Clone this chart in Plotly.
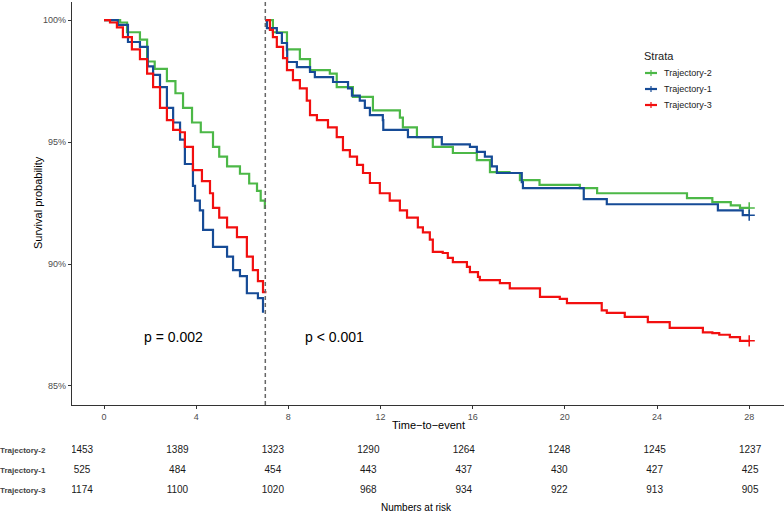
import plotly.graph_objects as go

# ---------------- data ----------------
groups = ["Trajectory-2", "Trajectory-1", "Trajectory-3"]
colors = ["#4CB847", "#164B96", "#F20F0F"]
landmark = 7

# segment 1 (0-7 days)
t1_traj2 = [0, 0.7, 1.0, 1.56, 1.87, 2.2, 2.73, 3.1, 3.43, 3.82, 4.2, 4.73, 5.0, 5.34, 5.9, 6.3, 6.64, 6.8, 6.98, 7.0]
s1_traj2 = [100, 99.9, 99.5, 99.2, 98.3, 98.0, 97.5, 97.0, 96.4, 95.8, 95.4, 94.8, 94.4, 94.0, 93.7, 93.3, 93.0, 92.6, 92.3, 92.3]
t1_traj1 = [0, 0.6, 1.04, 1.56, 1.9, 2.13, 2.43, 2.73, 3.0, 3.3, 3.51, 3.86, 3.95, 4.16, 4.3, 4.73, 5.34, 5.6, 5.9, 6.2, 6.68, 6.9]
s1_traj1 = [100, 99.8, 99.1, 98.9, 98.1, 97.75, 97.25, 96.4, 95.8, 95.1, 94.1, 93.2, 92.6, 92.2, 91.4, 90.7, 90.3, 89.75, 89.5, 88.8, 88.6, 88.0]
t1_traj3 = [0, 0.26, 0.56, 0.82, 1.21, 1.56, 1.87, 2.13, 2.43, 2.73, 3.0, 3.3, 3.51, 3.86, 4.25, 4.6, 4.73, 5.0, 5.34, 5.77, 6.2, 6.46, 6.68, 6.9, 7.0]
s1_traj3 = [100, 99.9, 99.7, 99.3, 98.8, 98.4, 97.8, 97.25, 96.4, 95.9, 95.5, 95.4, 94.8, 93.85, 93.4, 92.9, 92.3, 91.9, 91.5, 91.1, 90.3, 89.75, 89.3, 88.85, 88.8]

# segment 2 (7-28 days)
t2_traj2 = [7, 7.33, 7.94, 8.5, 8.94, 9.8, 10.1, 10.8, 11.67, 12.84, 12.97, 13.58, 14.27, 15.14, 16.18, 16.75, 17.6, 18.05, 18.9, 20.65, 21.4, 24.1, 25.3, 26.4, 27.2, 27.6, 28]
s2_traj2 = [100, 99.5, 98.8, 98.4, 97.95, 97.8, 97.25, 96.85, 96.3, 96.0, 95.6, 95.2, 94.8, 94.55, 94.26, 93.77, 93.73, 93.44, 93.24, 93.11, 92.9, 92.9, 92.7, 92.54, 92.4, 92.3, 92.3]
t2_traj1 = [7, 7.07, 7.5, 7.72, 7.94, 7.95, 8.37, 8.94, 9.15, 9.94, 10.59, 10.76, 11.1, 11.32, 11.54, 12.1, 12.12, 13.19, 14.66, 15.88, 16.18, 16.53, 16.83, 17.05, 18.13, 18.18, 20.82, 21.82, 26.64, 27.72, 28]
s2_traj1 = [100, 99.67, 99.47, 99.06, 98.77, 98.28, 98.07, 97.87, 97.66, 97.46, 97.2, 96.9, 96.7, 96.4, 96.1, 95.9, 95.5, 95.2, 94.9, 94.8, 94.6, 94.4, 94.0, 93.73, 93.36, 93.11, 92.66, 92.45, 92.2, 92.0, 92.0]
t2_traj3 = [7, 7.2, 7.33, 7.5, 7.77, 7.94, 8.2, 8.5, 8.8, 8.94, 9.24, 9.72, 10.1, 10.37, 10.67, 10.98, 11.24, 11.54, 11.97, 12.4, 12.84, 13.15, 13.62, 13.84, 14.14, 14.27, 14.7, 14.92, 15.14, 15.75, 15.88, 16.23, 16.31, 17.18, 17.61, 18.92, 19.78, 20.09, 21.6, 21.82, 22.6, 23.6, 24.55, 25.99, 26.4, 26.7, 27.16, 27.6, 28]
s2_traj3 = [100, 99.6, 99.3, 98.9, 98.44, 97.95, 97.54, 97.2, 96.7, 96.1, 95.9, 95.6, 95.2, 94.67, 94.4, 94.06, 93.73, 93.32, 92.9, 92.6, 92.2, 91.9, 91.5, 91.3, 91.0, 90.5, 90.45, 90.25, 90.08, 89.88, 89.67, 89.47, 89.34, 89.22, 89.0, 88.65, 88.57, 88.4, 88.1, 88.0, 87.83, 87.62, 87.38, 87.2, 87.17, 87.1, 87.0, 86.85, 86.85]

seg1 = [(t1_traj2, s1_traj2), (t1_traj1, s1_traj1), (t1_traj3, s1_traj3)]
seg2 = [(t2_traj2, s2_traj2), (t2_traj1, s2_traj1), (t2_traj3, s2_traj3)]

x_ticks = [0, 4, 8, 12, 16, 20, 24, 28]
y_ticks = [85, 90, 95, 100]
y_ticklabels = ["85%", "90%", "95%", "100%"]

risk_times = [0, 4, 8, 12, 16, 20, 24, 28]
risk_traj2 = [1453, 1389, 1323, 1290, 1264, 1248, 1245, 1237]
risk_traj1 = [525, 484, 454, 443, 437, 430, 427, 425]
risk_traj3 = [1174, 1100, 1020, 968, 934, 922, 913, 905]
risk_rows = [risk_traj2, risk_traj1, risk_traj3]

p_texts = ["p = 0.002", "p < 0.001"]
p_x = [3, 10]
p_y = [87, 87]

legend_title = "Strata"

FONT = "Liberation Sans"

# ---------------- figure ----------------
fig = go.Figure()

for i, g in enumerate(groups):
    for k, (tt, ss) in enumerate([seg1[i], seg2[i]]):
        fig.add_trace(go.Scatter(
            x=tt, y=ss, mode="lines", line=dict(color=colors[i], width=2.2, shape="hv"),
            name=g, showlegend=False, hoverinfo="skip",
            xaxis="x", yaxis="y"))
    # censor mark at end of follow-up
    tt, ss = seg2[i]
    fig.add_trace(go.Scatter(
        x=[tt[-1]], y=[ss[-1]], mode="markers",
        marker=dict(symbol="cross-thin", size=8, line=dict(color=colors[i], width=1.5)),
        showlegend=False, hoverinfo="skip", xaxis="x", yaxis="y"))

# risk table
row_pos = [2.5, 1.5, 0.5]
for r, vals in enumerate(risk_rows):
    fig.add_trace(go.Scatter(
        x=risk_times, y=[row_pos[r]] * len(risk_times), mode="text",
        text=[str(v) for v in vals], textposition="middle center",
        textfont=dict(family=FONT, size=10, color="#1a1a1a"),
        showlegend=False, hoverinfo="skip", xaxis="x2", yaxis="y2"))
    fig.add_annotation(x=(48 - 72) / 712, xref="paper", y=row_pos[r], yref="y2",
                       text="<b>" + groups[r] + "</b>", showarrow=False, xanchor="right",
                       font=dict(family=FONT, size=8, color="#444444"))

# landmark line
fig.add_shape(type="line", x0=landmark, x1=landmark, xref="x", y0=0, y1=1, yref="y domain",
              line=dict(color="#666666", width=1.5, dash="4px,3px"))

# p-values
for txt, px, py_ in zip(p_texts, p_x, p_y):
    fig.add_annotation(x=px, y=py_, xref="x", yref="y", text=txt, showarrow=False,
                       font=dict(family=FONT, size=14, color="black"))

H = 509.0
W = 712.0
def py(pix):
    return (511 - pix) / H
def px_(pix):
    return (pix - 72) / W

# legend (ggplot style, compact)
fig.add_annotation(x=px_(642), y=py(56), xref="paper", yref="paper", text=legend_title,
                   showarrow=False, xanchor="left", yanchor="middle",
                   font=dict(family=FONT, size=11, color="#1a1a1a"))
for i, g in enumerate(groups):
    yy = py(73 + 16 * i)
    fig.add_shape(type="line", xref="paper", yref="paper", x0=px_(645), x1=px_(657), y0=yy, y1=yy,
                  line=dict(color=colors[i], width=2.2))
    fig.add_shape(type="line", xref="paper", yref="paper", x0=px_(651), x1=px_(651),
                  y0=yy - 3 / H, y1=yy + 3 / H, line=dict(color=colors[i], width=1.2))
    fig.add_annotation(x=px_(662), y=yy, xref="paper", yref="paper", text=g, showarrow=False,
                       xanchor="left", yanchor="middle",
                       font=dict(family=FONT, size=9, color="#1a1a1a"))

fig.add_annotation(x=0.5, y=py(425), xref="paper", yref="paper", text="Time\u2212to\u2212event",
                   showarrow=False, font=dict(family=FONT, size=11, color="black"), yanchor="middle")
fig.add_annotation(x=px_(416), y=py(507), xref="paper", yref="paper", text="Numbers at risk",
                   showarrow=False, font=dict(family=FONT, size=10, color="black"), yanchor="middle")
fig.add_annotation(x=px_(38), y=py(203), xref="paper", yref="paper", text="Survival probability",
                   textangle=-90, showarrow=False, font=dict(family=FONT, size=11, color="black"),
                   xanchor="center", yanchor="middle")

fig.update_layout(
    width=784, height=513,
    margin=dict(l=72, r=0, t=2, b=2),
    plot_bgcolor="white", paper_bgcolor="white",
    font=dict(family=FONT, size=9, color="#4d4d4d"),
    showlegend=False,
    xaxis=dict(domain=[0, 1], range=[-1.389, 29.51], tickvals=x_ticks, ticks="outside", ticklen=3,
               tickcolor="#333333", showline=True, linecolor="#333333", linewidth=1.2,
               showgrid=False, zeroline=False, anchor="y",
               tickfont=dict(family=FONT, size=9, color="#4d4d4d")),
    yaxis=dict(domain=[py(405), 1], range=[84.22, 100.74], tickvals=y_ticks, ticktext=y_ticklabels,
               ticks="outside", ticklen=3, tickcolor="#333333", showline=True, linecolor="#333333",
               linewidth=1.2, showgrid=False, zeroline=False, anchor="x",
               tickfont=dict(family=FONT, size=9, color="#4d4d4d")),
    xaxis2=dict(domain=[0, 1], range=[-0.419, 29.42], visible=False, anchor="y2"),
    yaxis2=dict(domain=[py(500), py(440)], range=[0, 3], visible=False, anchor="x2"),
)

fig.write_html("out.html", post_script="document.body.style.margin='0';",
               config={"displayModeBar": False})
